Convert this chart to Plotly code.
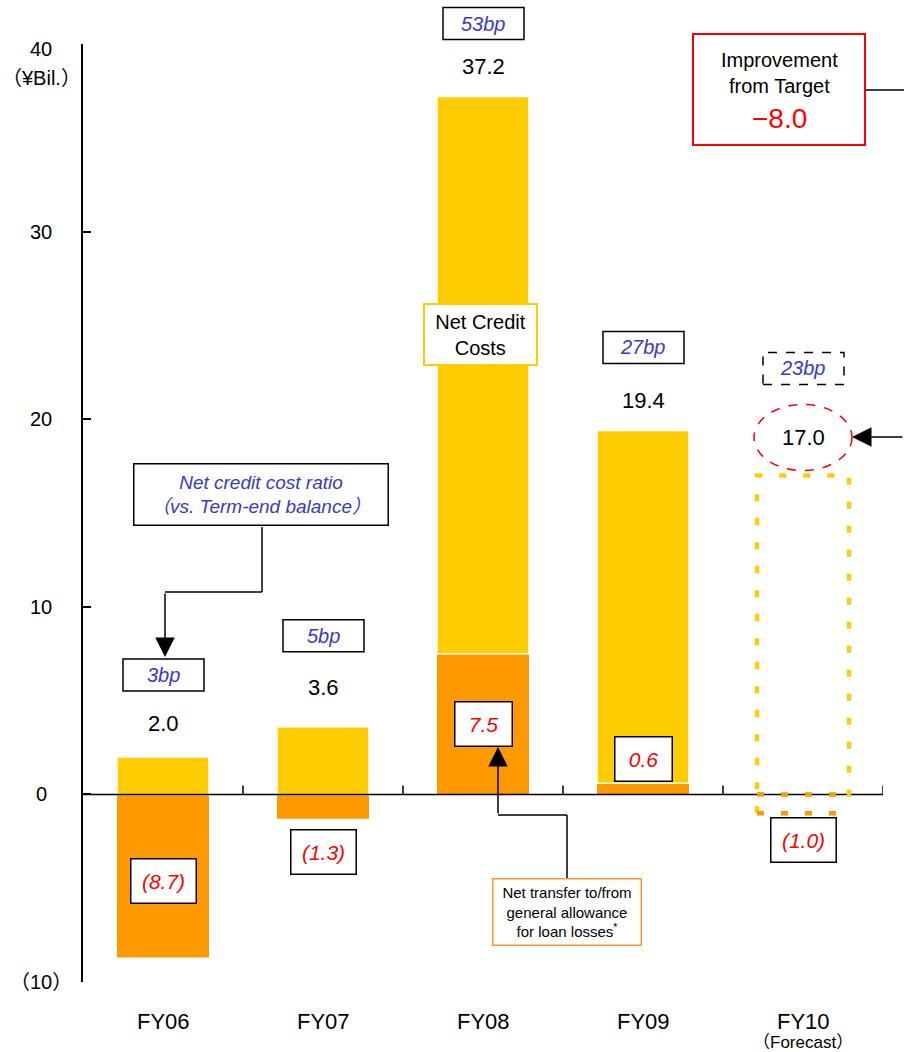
import plotly.graph_objects as go

# ---- data (¥ billion) ----
categories = ["FY06", "FY07", "FY08", "FY09", "FY10"]
net_credit_costs = [2.0, 3.6, 37.2, 19.4, 17.0]
general_allowance = [-8.7, -1.3, 7.5, 0.6, -1.0]
credit_cost_ratio_bp = [3, 5, 53, 27, 23]
forecast = [False, False, False, False, True]
y_ticks = [-10, 0, 10, 20, 30, 40]
y_tick_labels = ["（10）", "0", "10", "20", "30", "40"]
improvement_from_target = -8.0

# ---- label placement (pixel offsets from the mark they describe) ----
value_label_shift = [33, 39, 30, 30, 38]
bp_label_shift = [82, 91, 73, 83, 107]
allowance_label_mid = [True, False, True, False, False]
allowance_label_shift = [-5, -33, 0, 24, -27]

# ---- styling ----
YELLOW = "#FFCC00"
ORANGE = "#FF9900"
BLUE = "#3838CC"
RED = "#FF0000"
FONT = "Arial, 'Liberation Sans', 'Noto Sans CJK JP', sans-serif"
FORECAST_DASH = "7px,17px"

W, H = 904, 1052
L, R, T, B = 83, 883, 44, 982  # plot area edges in page pixels
BAR_W = 0.575
Y_MIN, Y_MAX = -10, 40
X_MIN, X_MAX = -0.5, len(categories) - 0.5


def fx(px):
    return (px - L) / (R - L)


def fy(py):
    return (B - py) / (B - T)


def paper_x(v):
    return (v - X_MIN) / (X_MAX - X_MIN)


def paper_y(v):
    return (v - Y_MIN) / (Y_MAX - Y_MIN)


def fmt_allowance(v):
    return f"({abs(v):.1f})" if v < 0 else f"{v:.1f}"


actual = [i for i, f in enumerate(forecast) if not f]
planned = [i for i, f in enumerate(forecast) if f]

fig = go.Figure()

# general allowance component
fig.add_bar(
    x=actual, y=[general_allowance[i] for i in actual], width=BAR_W,
    marker=dict(color=ORANGE, line=dict(width=0)), hoverinfo="skip",
)
# remaining net credit costs stacked on the positive allowance part
base = [max(general_allowance[i], 0) for i in actual]
fig.add_bar(
    x=actual, base=base,
    y=[net_credit_costs[i] - b for i, b in zip(actual, base)], width=BAR_W,
    marker=dict(color=YELLOW, line=dict(color="white", width=1.5)), hoverinfo="skip",
)

# horizontal axis line at zero
fig.add_scatter(x=[X_MIN, X_MAX], y=[0, 0], mode="lines",
                line=dict(color="black", width=1.5), hoverinfo="skip")

# forecast drawn as dashed outline
for i in planned:
    x0, x1 = i - BAR_W / 2, i + BAR_W / 2
    lo = min(general_allowance[i], 0)
    top = net_credit_costs[i]
    fig.add_scatter(x=[x0, x0, x1, x1], y=[lo, top, top, lo], mode="lines",
                    line=dict(color=YELLOW, width=4.5, dash=FORECAST_DASH), hoverinfo="skip")
    fig.add_scatter(x=[x0, x1, None, x0, x1], y=[0, 0, None, lo, lo], mode="lines",
                    line=dict(color=ORANGE, width=4.5, dash=FORECAST_DASH), hoverinfo="skip")

shapes = []
annotations = []


def text_at(px, py, text, size, color="black", **kw):
    d = dict(x=fx(px), y=fy(py), xref="paper", yref="paper", text=text, showarrow=False,
             xanchor="center", yanchor="middle", font=dict(size=size, color=color))
    d.update(kw)
    return d


# ticks on the zero line at category boundaries
for k in range(len(categories)):
    shapes.append(dict(type="line", xref="x", yref="y", x0=k + 0.5, x1=k + 0.5,
                       ysizemode="pixel", yanchor=0, y0=0, y1=9,
                       line=dict(color="black", width=1.5)))

# y tick labels centred left of the axis
for v, t in zip(y_ticks, y_tick_labels):
    annotations.append(dict(x=fx(41), xref="paper", y=v, yref="y", text=t, showarrow=False,
                            xanchor="center", yanchor="middle",
                            yshift=-5 if v == Y_MAX else 0,
                            font=dict(size=20, color="black")))
annotations.append(text_at(41, 78, "（¥Bil.）", 20))

# category labels
for i, c in enumerate(categories):
    annotations.append(dict(x=i, xref="x", y=0, yref="paper", yshift=-39, text=c,
                            showarrow=False, xanchor="center", yanchor="middle",
                            font=dict(size=22, color="black")))
    if forecast[i]:
        annotations.append(dict(x=i, xref="x", y=0, yref="paper", yshift=-60, text="（Forecast）",
                                showarrow=False, xanchor="center", yanchor="middle",
                                font=dict(size=17, color="black")))

# totals, bp ratios and allowance labels
for i in range(len(categories)):
    tot = net_credit_costs[i]
    annotations.append(dict(x=i, y=tot, xref="x", yref="y", yshift=value_label_shift[i],
                            text=f"{tot:.1f}", showarrow=False, xanchor="center",
                            yanchor="middle", font=dict(size=22, color="black")))
    s = bp_label_shift[i]
    shapes.append(dict(type="rect", xref="paper", yref="paper",
                       xsizemode="pixel", xanchor=paper_x(i), x0=-40, x1=41,
                       ysizemode="pixel", yanchor=paper_y(tot), y0=s - 16, y1=s + 16,
                       line=dict(color="black", width=1.5, dash="dash" if forecast[i] else "solid")))
    annotations.append(dict(x=i, y=tot, xref="x", yref="y", yshift=s,
                            text=f"<i>{credit_cost_ratio_bp[i]}bp</i>", showarrow=False,
                            xanchor="center", yanchor="middle", font=dict(size=20, color=BLUE)))
    a = general_allowance[i]
    txt = fmt_allowance(a)
    annotations.append(dict(x=i, y=a / 2 if allowance_label_mid[i] else a, xref="x", yref="y",
                            yshift=allowance_label_shift[i], text=f"<i>{txt}</i>",
                            showarrow=False, xanchor="center", yanchor="middle", bgcolor="white",
                            bordercolor="black", borderwidth=1.5, borderpad=1,
                            width=62 if a < 0 else 54, height=41,
                            font=dict(size=21, color=RED)))
    if forecast[i]:
        shapes.append(dict(type="circle", xref="paper", yref="paper",
                           xsizemode="pixel", xanchor=paper_x(i), x0=-49, x1=49,
                           ysizemode="pixel", yanchor=paper_y(tot),
                           y0=value_label_shift[i] - 33, y1=value_label_shift[i] + 33,
                           line=dict(color=RED, width=1.5, dash="dash")))

# "Net Credit Costs" tag
annotations.append(text_at(480, 334, "Net Credit<br>Costs", 20, bgcolor="white",
                           bordercolor=YELLOW, borderwidth=2, borderpad=0, width=111, height=59))


def seg(p0, p1):
    return dict(type="line", xref="paper", yref="paper", x0=fx(p0[0]), y0=fy(p0[1]),
                x1=fx(p1[0]), y1=fy(p1[1]), line=dict(color="black", width=1.5))


def arrow(tip, tail):
    return dict(x=fx(tip[0]), y=fy(tip[1]), xref="paper", yref="paper", text="",
                showarrow=True, ax=tail[0] - tip[0], ay=tail[1] - tip[1],
                arrowhead=2, arrowsize=2.6, arrowwidth=1.5, arrowcolor="black", standoff=0)


# ratio call-out
annotations.append(text_at(261, 495, "<i>Net credit cost ratio<br>（vs. Term-end balance）</i>", 19,
                           color=BLUE, bgcolor="white", bordercolor="black", borderwidth=1.5,
                           borderpad=0, width=253, height=60))
shapes += [seg((262, 527), (262, 592)), seg((262, 592), (165, 592))]
annotations.append(arrow((165, 657), (165, 592)))

# allowance call-out
annotations.append(text_at(567, 912,
                           "Net transfer to/from<br>general allowance<br>for loan losses<sup>*</sup>",
                           15, bgcolor="white", bordercolor="#FF9933", borderwidth=1.5,
                           borderpad=0, width=147, height=65))
shapes += [seg((567, 879), (567, 815)), seg((567, 815), (498, 815))]
annotations.append(arrow((498, 747), (498, 815)))

# improvement box
shapes.append(dict(type="rect", xref="paper", yref="paper", x0=fx(693), x1=fx(865),
                   y0=fy(145), y1=fy(34), line=dict(color=RED, width=2)))
annotations.append(text_at(779, 73, "Improvement<br>from Target", 20))
annotations.append(text_at(779, 119, f"−{abs(improvement_from_target):.1f}", 28, color=RED))
shapes.append(seg((865, 90), (904, 90)))
annotations.append(arrow((852, 437), (904, 437)))

fig.update_layout(
    width=W, height=H,
    margin=dict(l=L, r=W - R, t=T, b=H - B, pad=0),
    paper_bgcolor="white", plot_bgcolor="white",
    barmode="overlay", showlegend=False,
    font=dict(family=FONT, color="black"),
    xaxis=dict(range=[X_MIN, X_MAX], visible=False),
    yaxis=dict(range=[Y_MIN, Y_MAX], showline=True, linecolor="black", linewidth=1.5,
               ticks="inside", ticklen=8, tickwidth=1.5, tickcolor="black",
               tickvals=y_ticks, showticklabels=False, showgrid=False, zeroline=False),
    shapes=shapes, annotations=annotations,
)

fig.write_html("out.html")
